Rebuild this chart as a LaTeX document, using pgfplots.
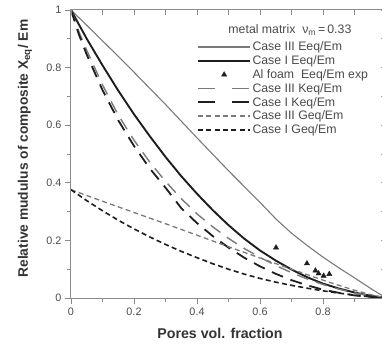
\documentclass[border=0pt]{standalone}
\usepackage{fontspec}
\setmainfont{Liberation Sans}
\usepackage{pgfplots}
\pgfplotsset{compat=1.18}
\definecolor{axgray}{HTML}{8A8A8A}
\definecolor{c3}{HTML}{7A7A7A}
\definecolor{c1}{HTML}{1E1E1E}
\definecolor{txt}{HTML}{4A4A4A}
\definecolor{lab}{HTML}{333333}
\begin{document}
\begin{tikzpicture}
\begin{axis}[name=main, scale only axis, width=315pt, height=288pt,
  xmin=0, xmax=1, ymin=0, ymax=1,
  axis line style={draw=axgray, line width=1pt},
  tick align=outside, xtick pos=bottom, ytick pos=left,
  xtick={0,0.2,0.4,0.6,0.8}, minor xtick={0.1,0.3,0.5,0.7,0.9},
  extra x ticks={1}, extra x tick labels={},
  ytick={0,0.2,0.4,0.6,0.8,1}, minor ytick={0.1,0.3,0.5,0.7,0.9},
  major tick length=6pt, minor tick length=4pt,
  tick style={draw=axgray, line width=0.9pt},
  /pgf/number format/.cd, assume math mode=true, /pgfplots/.cd,
  ticklabel style={font=\fontsize{10.8}{12}\selectfont, text=txt},
  xlabel={\textbf{Pores vol. fraction}},
  ylabel={\textbf{Relative mudulus of composite X\textsubscript{eq}/ Em}},
  xlabel style={font=\fontsize{14.2}{16}\selectfont, text=lab, at={(axis description cs:0.473,-0.124)}, anchor=center},
  ylabel style={font=\fontsize{13.8}{16}\selectfont, text=lab, at={(axis description cs:-0.146,0.519)}, anchor=center, rotate=0},
  legend style={draw=none, fill=none, at={(axis cs:0.4,0.895)}, anchor=north west,
    font=\fontsize{12.3}{14}\selectfont, text=txt, row sep=0.6pt, inner sep=0pt,
    nodes={inner sep=1.4pt}},
  legend cell align=left,
  legend image code/.code={\draw[mark repeat=2,mark phase=2,#1] plot coordinates {(0pt,0pt) (26pt,0pt) (52pt,0pt)};},
]
% Case III Eeq/Em
\addplot[c3, line width=1.1pt] coordinates {
(0,1) (0.05,0.947) (0.1,0.893) (0.15,0.839) (0.2,0.784) (0.25,0.728) (0.3,0.672)
(0.35,0.614) (0.4,0.556) (0.45,0.499) (0.5,0.442) (0.55,0.387) (0.6,0.332)
(0.65,0.275) (0.7,0.225) (0.75,0.182) (0.8,0.142) (0.85,0.105) (0.9,0.07) (0.95,0.034) (1,0)};
\addlegendentry{Case III Eeq/Em}
% Case I Eeq/Em
\addplot[c1, line width=1.9pt] coordinates {
(0,1) (0.05,0.9) (0.1,0.808) (0.15,0.72) (0.2,0.638) (0.25,0.562) (0.3,0.49)
(0.35,0.423) (0.4,0.362) (0.45,0.305) (0.5,0.253) (0.55,0.206) (0.6,0.165)
(0.65,0.13) (0.7,0.099) (0.75,0.072) (0.8,0.05) (0.85,0.033) (0.9,0.019) (0.95,0.008) (1,0)};
\addlegendentry{Case I Eeq/Em}
% Al foam experiments
\addplot[only marks, mark=triangle*, mark size=3pt, c1] coordinates {
(0.651,0.175) (0.749,0.12) (0.776,0.095) (0.786,0.085) (0.802,0.077) (0.82,0.083)};
\addlegendentry{Al foam\ \ Eeq/Em exp}
% Case III Keq/Em
\addplot[c3, line width=1.4pt, dash pattern=on 12pt off 8pt,
  legend image post style={dash pattern=on 17pt off 17pt}] coordinates {
(0,1) (0.025,0.925) (0.05,0.86) (0.1,0.74) (0.15,0.635) (0.2,0.548) (0.25,0.472)
(0.3,0.405) (0.35,0.345) (0.4,0.292) (0.45,0.247) (0.5,0.207) (0.55,0.172)
(0.6,0.141) (0.65,0.113) (0.7,0.088) (0.75,0.066) (0.8,0.047) (0.85,0.031)
(0.9,0.018) (0.95,0.008) (1,0)};
\addlegendentry{Case III Keq/Em}
% Case I Keq/Em
\addplot[c1, line width=1.8pt, dash pattern=on 12pt off 8pt,
  legend image post style={dash pattern=on 17pt off 17pt}] coordinates {
(0,1) (0.025,0.915) (0.05,0.845) (0.1,0.722) (0.15,0.617) (0.2,0.528) (0.25,0.45)
(0.3,0.383) (0.35,0.312) (0.4,0.26) (0.45,0.215) (0.5,0.175) (0.55,0.14)
(0.6,0.11) (0.65,0.084) (0.7,0.062) (0.75,0.044) (0.8,0.029) (0.85,0.018)
(0.9,0.009) (0.95,0.004) (1,0)};
\addlegendentry{Case I Keq/Em}
% Case III Geq/Em
\addplot[c3, line width=1.3pt, dash pattern=on 5pt off 3.3pt] coordinates {
(0,0.376) (0.1,0.336) (0.2,0.297) (0.3,0.258) (0.4,0.218) (0.5,0.178) (0.6,0.139)
(0.7,0.1) (0.75,0.081) (0.8,0.062) (0.85,0.044) (0.9,0.027) (0.95,0.012) (1,0)};
\addlegendentry{Case III Geq/Em}
% Case I Geq/Em
\addplot[c1, line width=1.6pt, dash pattern=on 5pt off 3.3pt] coordinates {
(0,0.376) (0.05,0.338) (0.1,0.303) (0.15,0.27) (0.2,0.24) (0.25,0.212) (0.3,0.186)
(0.35,0.162) (0.4,0.14) (0.45,0.119) (0.5,0.1) (0.55,0.083) (0.6,0.068)
(0.65,0.055) (0.7,0.044) (0.75,0.034) (0.8,0.025) (0.85,0.017) (0.9,0.01)
(0.95,0.004) (1,0)};
\addlegendentry{Case I Geq/Em}
\node[font=\fontsize{12.3}{14}\selectfont, text=txt, anchor=center] at (axis cs:0.695,0.93) {metal matrix \ ν\textsubscript{m}\,=\,0.33};
\end{axis}
\begin{axis}[at={(main.south west)}, anchor=south west, scale only axis, width=315pt, height=288pt,
  xmin=0, xmax=1, ymin=0, ymax=1,
  axis line style={draw=axgray, line width=1pt},
  tick align=inside, xtick pos=top, ytick pos=right,
  xtick={0,0.2,0.4,0.6,0.8,1}, minor xtick={0.1,0.3,0.5,0.7,0.9},
  ytick={0,0.2,0.4,0.6,0.8,1}, minor ytick={0.1,0.3,0.5,0.7,0.9},
  major tick length=5pt, minor tick length=5pt,
  tick style={draw=axgray, line width=0.9pt},
  xticklabels={}, yticklabels={},
]
\end{axis}
\pgfresetboundingbox
\path[use as bounding box] ([xshift=-71pt,yshift=-45pt]main.south west) rectangle ([xshift=311pt,yshift=10pt]main.north west);
\end{tikzpicture}
\end{document}
